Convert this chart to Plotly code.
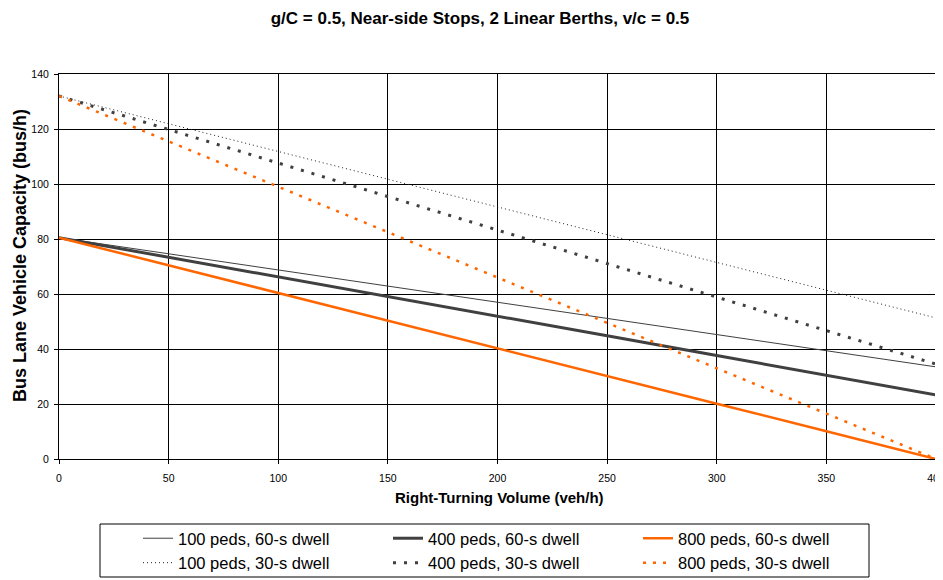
import plotly.graph_objects as go

volume = [0, 50, 100, 150, 200, 250, 300, 350, 400]
cap_100_60 = [80.5, 74.6, 68.8, 62.9, 57.0, 51.1, 45.3, 39.4, 33.5]
cap_400_60 = [80.5, 73.4, 66.2, 59.1, 51.9, 44.8, 37.6, 30.5, 23.3]
cap_800_60 = [80.5, 70.4, 60.4, 50.3, 40.3, 30.2, 20.1, 10.1, 0.0]
cap_100_30 = [132.0, 121.9, 111.8, 101.7, 91.7, 81.6, 71.5, 61.4, 51.3]
cap_400_30 = [132.0, 119.8, 107.6, 95.4, 83.3, 71.1, 58.9, 46.7, 34.5]
cap_800_30 = [132.0, 115.5, 99.0, 82.5, 66.0, 49.5, 33.0, 16.5, 0.0]

x_ticks = [0, 50, 100, 150, 200, 250, 300, 350, 400]
y_ticks = [0, 20, 40, 60, 80, 100, 120, 140]

DARK = "#404040"
ORANGE = "#FF6600"

series = [
    ("100 peds, 60-s dwell", cap_100_60, dict(color=DARK, width=1, dash="solid")),
    ("400 peds, 60-s dwell", cap_400_60, dict(color=DARK, width=3, dash="solid")),
    ("800 peds, 60-s dwell", cap_800_60, dict(color=ORANGE, width=2.5, dash="solid")),
    ("100 peds, 30-s dwell", cap_100_30, dict(color="#202020", width=1, dash="1px,3px")),
    ("400 peds, 30-s dwell", cap_400_30, dict(color=DARK, width=3, dash="3px,8px")),
    ("800 peds, 30-s dwell", cap_800_30, dict(color=ORANGE, width=2.5, dash="3px,7px")),
]

fig = go.Figure()
for name, vals, line in series:
    fig.add_trace(go.Scatter(x=volume, y=vals, mode="lines", name=name, line=line))

FONT = "Liberation Sans, Arial, sans-serif"
OFF = 8  # browser default body margin
PW, PH = 877, 385  # plot area size in px
FIG_W, FIG_H = 943 - OFF, 580 - OFF

def px_x(px):
    return (px - 59) / PW

def px_y(py):
    return (459 - py) / PH

fig.update_layout(
    width=FIG_W, height=FIG_H,
    margin=dict(l=59 - OFF, r=7, t=74 - OFF, b=FIG_H - (459 - OFF), autoexpand=False),
    paper_bgcolor="white", plot_bgcolor="white",
    font=dict(family=FONT, size=12, color="black"),
    title=dict(text="<b>g/C = 0.5, Near-side Stops, 2 Linear Berths, v/c = 0.5</b>",
               x=px_x(480), xref="paper", xanchor="center", y=1 - (18 - OFF)/FIG_H, yanchor="middle",
               font=dict(family=FONT, size=17, color="black")),
    xaxis=dict(range=[0, 400], tickvals=x_ticks, showgrid=True, gridcolor="#000000", gridwidth=1,
               showline=True, linecolor="black", linewidth=1, mirror=True,
               ticks="outside", ticklen=4, tickcolor="black", zeroline=False,
               ticklabeloverflow="allow", ticklabelstandoff=5,
               tickfont=dict(size=10.5)),
    yaxis=dict(range=[0, 140], tickvals=y_ticks, showgrid=True, gridcolor="#000000", gridwidth=1,
               showline=True, linecolor="black", linewidth=1, mirror=True,
               ticks="outside", ticklen=4, tickcolor="black", zeroline=False,
               ticklabeloverflow="allow", ticklabelstandoff=3,
               tickfont=dict(size=10.5)),
    annotations=[
        dict(text="<b>Right-Turning Volume (veh/h)</b>", xref="paper", yref="paper",
             x=px_x(499), y=px_y(498), xanchor="center", yanchor="middle", showarrow=False,
             font=dict(family=FONT, size=15, color="black")),
        dict(text="<b>Bus Lane Vehicle Capacity (bus/h)</b>", xref="paper", yref="paper",
             x=px_x(20), y=px_y(256), xanchor="center", yanchor="middle", showarrow=False,
             textangle=-90, font=dict(family=FONT, size=18, color="black")),
    ],
    legend=dict(orientation="h", x=px_x(138), xanchor="left", y=px_y(521), yanchor="top",
                borderwidth=0, bgcolor="rgba(0,0,0,0)",
                entrywidth=205, entrywidthmode="pixels",
                font=dict(family=FONT, size=16.5), tracegroupgap=0, itemwidth=30),
    showlegend=True,
    shapes=[dict(type="rect", xref="paper", yref="paper",
                 x0=px_x(100), x1=px_x(869), y0=px_y(524), y1=px_y(577),
                 line=dict(color="black", width=1), fillcolor="rgba(0,0,0,0)", layer="above")],
)

fig.write_html("out.html")
